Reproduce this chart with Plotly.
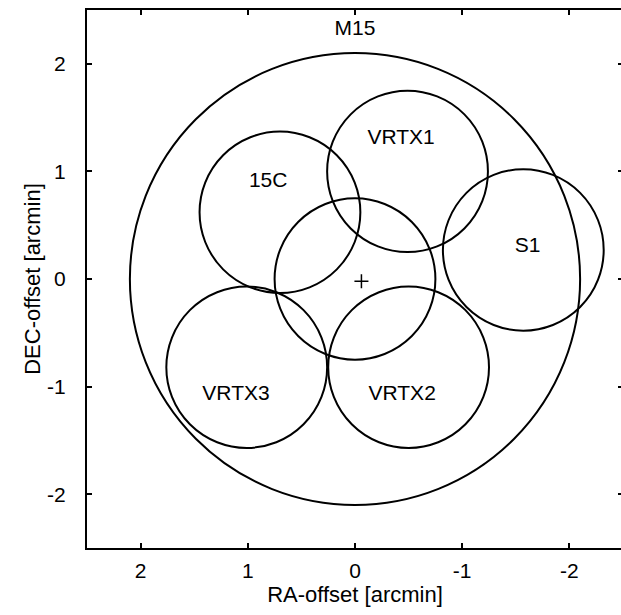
import plotly.graph_objects as go

# Cluster outline (M15) and the pointing fields, in arcmin offsets
cluster_name = "M15"
cluster_ra = 0.0
cluster_dec = 0.0
cluster_radius = 2.1
cluster_label_ra = 0.0
cluster_label_dec = 2.32

field_names = ["", "VRTX1", "15C", "S1", "VRTX3", "VRTX2"]
field_ra = [0.0, -0.49, 0.70, -1.57, 1.01, -0.50]
field_dec = [0.0, 1.00, 0.62, 0.27, -0.82, -0.82]
field_radius = 0.75
label_ra = [0.0, -0.43, 0.81, -1.61, 1.11, -0.44]
label_dec = [0.0, 1.30, 0.905, 0.30, -1.08, -1.08]

centre_ra = [-0.06]
centre_dec = [-0.02]

x_ticks = [2, 1, 0, -1, -2]
y_ticks = [-2, -1, 0, 1, 2]

FONT = "Liberation Sans, Arial, Helvetica, sans-serif"
LINE = dict(color="black", width=2)

fig = go.Figure()

shapes = [dict(type="circle", xref="x", yref="y",
               x0=cluster_ra - cluster_radius, x1=cluster_ra + cluster_radius,
               y0=cluster_dec - cluster_radius, y1=cluster_dec + cluster_radius,
               line=LINE)]
for ra, dec in zip(field_ra, field_dec):
    shapes.append(dict(type="circle", xref="x", yref="y",
                       x0=ra - field_radius, x1=ra + field_radius,
                       y0=dec - field_radius, y1=dec + field_radius,
                       line=LINE))

labels = [n for n in field_names if n]
lra = [r for n, r in zip(field_names, label_ra) if n]
ldec = [d for n, d in zip(field_names, label_dec) if n]

fig.add_trace(go.Scatter(
    x=lra + [cluster_label_ra], y=ldec + [cluster_label_dec],
    mode="text", text=labels + [cluster_name],
    textfont=dict(family=FONT, size=21, color="black"),
    hoverinfo="skip", showlegend=False))

fig.add_trace(go.Scatter(
    x=centre_ra, y=centre_dec, mode="markers",
    marker=dict(symbol="cross-thin", size=10, line=dict(color="black", width=1.5)),
    hoverinfo="skip", showlegend=False))

axis_common = dict(
    showgrid=False, zeroline=False,
    showline=True, linecolor="black", linewidth=2, mirror="ticks",
    ticks="inside", ticklen=5, tickwidth=1.5, tickcolor="black",
    tickfont=dict(family=FONT, size=21, color="black"),
)

fig.update_layout(
    width=625, height=615,
    margin=dict(l=87, r=0, t=10, b=67),
    paper_bgcolor="white", plot_bgcolor="white",
    shapes=shapes,
    xaxis=dict(range=[2.5, -2.5], tickvals=x_ticks,
               ticktext=[str(v) for v in x_ticks],
               title=dict(text="RA-offset [arcmin]", standoff=4,
                          font=dict(family=FONT, size=22, color="black")),
               ticklabelstandoff=3, **axis_common),
    yaxis=dict(range=[-2.5, 2.5], tickvals=y_ticks,
               ticktext=[str(v) for v in y_ticks],
               title=dict(text="DEC-offset [arcmin]", standoff=0,
                          font=dict(family=FONT, size=22, color="black")),
               ticklabelstandoff=15, **axis_common),
)

fig.write_html("out.html",
               post_script="document.body.style.margin='0';document.body.style.overflow='hidden';")
